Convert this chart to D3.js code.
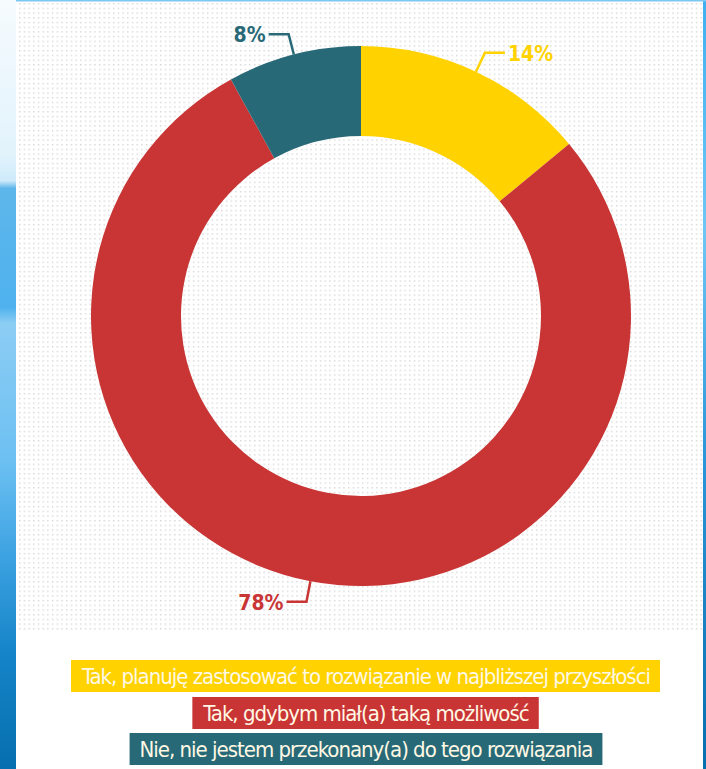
<!DOCTYPE html>
<html><head><meta charset="utf-8">
<script src="https://cdn.jsdelivr.net/npm/d3@7"></script>
<style>html,body{margin:0;padding:0;background:#fff;overflow:hidden}</style>
</head><body>
<svg id="chart" width="706" height="769"></svg>
<script>
const categories = [
  "Tak, planuję zastosować to rozwiązanie w najbliższej przyszłości",
  "Tak, gdybym miał(a) taką możliwość",
  "Nie, nie jestem przekonany(a) do tego rozwiązania"
];
const values = [14, 78, 8];
const valueLabels = ["14%", "78%", "8%"];
const colors = ["#FFD200", "#C93535", "#286977"];

const W = 706, H = 769;
const svg = d3.select("#chart");
const defs = svg.append("defs");

// side gradient
const lg = defs.append("linearGradient").attr("id","side").attr("x1",0).attr("y1",0).attr("x2",0).attr("y2",1);
[[0,"#f6fbfe"],[0.2,"#e2f3fc"],[0.235,"#cfeafa"],[0.245,"#5db6ea"],[0.4,"#4fb2ee"],[0.42,"#8ccdf4"],[0.6,"#6cc0f2"],[0.72,"#3ea3e2"],[0.85,"#1584c8"],[1,"#066fae"]]
  .forEach(([o,c])=>lg.append("stop").attr("offset",o).attr("stop-color",c));
const rg = defs.append("linearGradient").attr("id","rside").attr("x1",0).attr("y1",0).attr("x2",0).attr("y2",1);
[[0,"#3fb0f0"],[0.3,"#6fc6f4"],[0.6,"#2a95d8"],[1,"#066fae"]]
  .forEach(([o,c])=>rg.append("stop").attr("offset",o).attr("stop-color",c));

const pat = defs.append("pattern").attr("id","dots").attr("patternUnits","userSpaceOnUse")
  .attr("width",4.7).attr("height",4.7).attr("x",19).attr("y",3);
pat.append("rect").attr("width",1.4).attr("height",1.4).attr("fill","#d6d6d6");

svg.append("rect").attr("x",0).attr("y",0).attr("width",16).attr("height",H).attr("fill","url(#side)");
svg.append("rect").attr("x",703).attr("y",0).attr("width",3).attr("height",H).attr("fill","url(#rside)");
svg.append("rect").attr("x",16).attr("y",0).attr("width",690).attr("height",1.5).attr("fill","#7cc8f2");
svg.append("rect").attr("x",18).attr("y",3).attr("width",685).attr("height",628).attr("fill","url(#dots)");

const cx = 361, cy = 316, R = 270, r = 180;
const g = svg.append("g").attr("transform",`translate(${cx},${cy})`);
const pie = d3.pie().sort(null).value(d=>d)(values);
const arc = d3.arc().innerRadius(r).outerRadius(R);
g.selectAll("path.slice").data(pie).join("path").attr("class","slice")
  .attr("d",arc).attr("fill",(d,i)=>colors[i]);

// leader lines and labels
pie.forEach((d,i)=>{
  const a = (d.startAngle + d.endAngle)/2;
  const s = Math.sin(a), c = -Math.cos(a);
  const p0 = [s*R, c*R], p1 = [s*(R+21), c*(R+21)];
  const dir = s >= 0 ? 1 : -1;
  const p2 = [p1[0] + dir*20, p1[1]];
  g.append("path").attr("d", d3.line()([p0,p1,p2]))
    .attr("fill","none").attr("stroke",colors[i]).attr("stroke-width",2.5);
  g.append("text").attr("x", p2[0] + dir*3).attr("y", p2[1] + 8)
    .attr("text-anchor", dir>0 ? "start" : "end")
    .attr("font-family","'DejaVu Sans Condensed','DejaVu Sans',sans-serif")
    .attr("font-stretch","condensed")
    .attr("font-weight","bold").attr("font-size",21)
    .attr("fill",colors[i]).text(valueLabels[i]);
});

// legend
const legTop = [660, 697, 733];
const lgx = 366;
const targetFirst = 568;
let ls = 0;
categories.forEach((t,i)=>{
  const grp = svg.append("g");
  const txt = grp.append("text").attr("x",lgx).attr("y",legTop[i]+24)
    .attr("text-anchor","middle")
    .attr("font-family","'DejaVu Sans Condensed','DejaVu Sans',sans-serif")
    .attr("font-stretch","condensed")
    .attr("font-size",22).attr("fill","#fff8e4").text(t);
  if (i === 0) {
    const nat = txt.node().getComputedTextLength();
    ls = (targetFirst - nat) / t.length;
  }
  txt.attr("letter-spacing", ls);
  const bb = txt.node().getBBox();
  grp.insert("rect","text").attr("x",bb.x - 10).attr("y",legTop[i]).attr("width",bb.width+20).attr("height",32)
    .attr("fill",colors[i]);
});
</script>
</body></html>
